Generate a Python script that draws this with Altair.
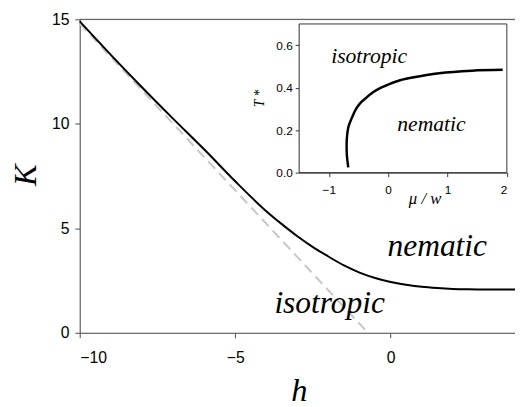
import altair as alt
import pandas as pd

# main curve K(h)
main_h = [-10, -9, -8, -7, -6, -5, -4, -3.5, -3, -2.5, -2, -1.5, -1, -0.5, 0, 0.5, 1, 1.5, 2, 2.5, 3, 4]
main_K = [14.9, 13.3, 11.75, 10.25, 8.78, 7.25, 5.82, 5.2, 4.62, 4.1, 3.65, 3.22, 2.88, 2.62, 2.43, 2.3, 2.2, 2.14, 2.1, 2.08, 2.07, 2.07]

# dashed asymptote
dash_h = [-10, -0.73]
dash_K = [14.8, 0]

# inset curve T*(mu/w)
ins_mu = [-0.672, -0.695, -0.70, -0.69, -0.665, -0.616, -0.55, -0.477, -0.38, -0.255, -0.12, 0.02, 0.2, 0.41, 0.857, 1.41, 1.93]
ins_T = [0.025, 0.08, 0.13, 0.18, 0.22, 0.255, 0.295, 0.325, 0.35, 0.378, 0.40, 0.417, 0.435, 0.448, 0.468, 0.48, 0.484]

main_labels = ["nematic", "isotropic"]
main_lab_h = [1.5, -1.96]
main_lab_K = [3.67, 0.94]

ins_labels = ["isotropic", "nematic"]
ins_lab_mu = [-0.32, 0.73]
ins_lab_T = [0.514, 0.197]

W, H = 443, 319
SERIF = "Liberation Serif, Times New Roman, Times, serif"
SANS = "Liberation Sans, Arial, Helvetica, sans-serif"
AX = "#4a4a4a"

df_main = pd.DataFrame({"h": main_h, "K": main_K, "i": range(len(main_h))})
df_dash = pd.DataFrame({"h": dash_h, "K": dash_K})
df_ins = pd.DataFrame({"mu": ins_mu, "T": ins_T, "i": range(len(ins_mu))})
df_mlab = pd.DataFrame({"h": main_lab_h, "K": main_lab_K, "t": main_labels})
df_ilab = pd.DataFrame({"mu": ins_lab_mu, "T": ins_lab_T, "t": ins_labels})

xs = alt.Scale(domain=[-10, 4], nice=False, zero=False)
ys = alt.Scale(domain=[0, 15], nice=False)

xax = alt.Axis(values=[-10, -5, 0], title="h", grid=False, tickSize=5, labelPadding=12,
               labelFont=SANS, labelFontSize=16, labelColor="black",
               domainColor=AX, tickColor=AX,
               titleFont=SERIF, titleFontStyle="italic", titleFontWeight="normal", titleFontSize=33,
               titleX=223, titleY=69, titleBaseline="alphabetic", titleAlign="center", titleColor="black")
yax = alt.Axis(values=[0, 5, 10, 15], title="K", grid=False, tickSize=5, labelPadding=6,
               labelFont=SANS, labelFontSize=16, labelColor="black",
               domainColor=AX, tickColor=AX,
               titleFont=SERIF, titleFontStyle="italic", titleFontWeight="normal", titleFontSize=33,
               titleX=-45, titleY=158, titleAngle=-90, titleBaseline="alphabetic", titleAlign="center",
               titleColor="black")

dash = alt.Chart(df_dash).mark_line(color="#c8c8c8", strokeWidth=2, strokeDash=[10, 6]).encode(
    x=alt.X("h:Q", scale=xs, axis=xax),
    y=alt.Y("K:Q", scale=ys, axis=yax),
)
curve = alt.Chart(df_main).mark_line(color="black", strokeWidth=2, interpolate="monotone").encode(
    x=alt.X("h:Q", scale=xs, axis=xax),
    y=alt.Y("K:Q", scale=ys, axis=yax),
    order="i:Q",
)
topline = alt.Chart(pd.DataFrame({"a": [0]})).mark_rule(color=AX, strokeWidth=1).encode(
    y=alt.datum(15),
)
mlab = alt.Chart(df_mlab).mark_text(font=SERIF, fontStyle="italic", fontSize=32, align="center",
                                    baseline="alphabetic", color="black").encode(
    x=alt.X("h:Q", scale=xs, axis=xax),
    y=alt.Y("K:Q", scale=ys, axis=yax),
    text="t:N",
)
main = alt.layer(dash, curve, topline, mlab)

# inset scales with pixel ranges inside the main plot area
ixs = alt.Scale(domain=[-1.5, 2], range=[223.3, 434.7], nice=False, zero=False)
iys = alt.Scale(domain=[0, 0.7], range=[156, 4.7], nice=False)

ixax = alt.Axis(values=[-1, 0, 1, 2], title="μ / w", orient="bottom", offset=-163, grid=False,
                tickSize=4, labelPadding=8, labelFont=SANS, labelFontSize=12, labelColor="black",
                domainColor="#333333", tickColor="#333333",
                titleFont=SERIF, titleFontStyle="italic", titleFontWeight="normal", titleFontSize=17,
                titleX=351, titleY=31, titleBaseline="alphabetic", titleAlign="center", titleColor="black")
iyax = alt.Axis(values=[0, 0.2, 0.4, 0.6], format=".1f", title="T *", orient="left", offset=-223.3,
                grid=False, tickSize=4, labelPadding=3, labelFont=SANS, labelFontSize=12,
                labelColor="black", domainColor="#333333", tickColor="#333333",
                titleFont=SERIF, titleFontStyle="italic", titleFontWeight="normal", titleFontSize=14,
                titleX=-36, titleY=80, titleAngle=-90, titleBaseline="alphabetic", titleAlign="center",
                titleColor="black")

frame = alt.Chart(pd.DataFrame({"a": [0]})).mark_rect(fill="white", stroke="#333333", strokeWidth=1).encode(
    x=alt.X(datum=-1.5, scale=ixs, axis=ixax, type="quantitative"),
    x2=alt.datum(2),
    y=alt.Y(datum=0, scale=iys, axis=iyax, type="quantitative"),
    y2=alt.datum(0.7),
)
icurve = alt.Chart(df_ins).mark_line(color="black", strokeWidth=2.5, interpolate="catmull-rom").encode(
    x=alt.X("mu:Q", scale=ixs, axis=ixax),
    y=alt.Y("T:Q", scale=iys, axis=iyax),
    order="i:Q",
)
ilab = alt.Chart(df_ilab).mark_text(font=SERIF, fontStyle="italic", fontSize=22, align="center",
                                    baseline="alphabetic", color="black").encode(
    x=alt.X("mu:Q", scale=ixs, axis=ixax),
    y=alt.Y("T:Q", scale=iys, axis=iyax),
    text="t:N",
)
inset = alt.layer(frame, icurve, ilab)

chart = alt.layer(main, inset).resolve_scale(x="independent", y="independent").resolve_axis(
    x="independent", y="independent"
).properties(
    width=W, height=H, autosize="none",
    padding={"left": 73, "top": 8, "right": 0, "bottom": 72},
).configure_view(stroke=None).configure(background="white")

chart.save("out.html", embed_options={"renderer": "svg", "actions": False})
